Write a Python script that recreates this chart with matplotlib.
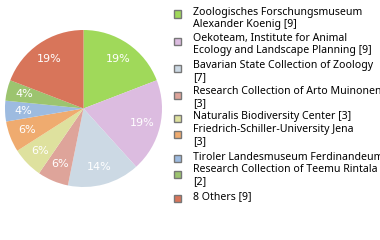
import matplotlib
matplotlib.use("Agg")
import numpy as np
import matplotlib.pyplot as plt
from matplotlib.patches import Rectangle

# data
labels = [
    "Zoologisches Forschungsmuseum\nAlexander Koenig [9]",
    "Oekoteam, Institute for Animal\nEcology and Landscape Planning [9]",
    "Bavarian State Collection of Zoology\n[7]",
    "Research Collection of Arto Muinonen\n[3]",
    "Naturalis Biodiversity Center [3]",
    "Friedrich-Schiller-University Jena\n[3]",
    "Tiroler Landesmuseum Ferdinandeum [2]",
    "Research Collection of Teemu Rintala\n[2]",
    "8 Others [9]",
]
counts = [9, 9, 7, 3, 3, 3, 2, 2, 9]
colors = ["#a0d95a", "#dcbce0", "#ccd9e4", "#dea49a", "#dee19e",
          "#efab6f", "#9dbbe0", "#9cc46f", "#d8755a"]

total = sum(counts)
pct_labels = [f"{int(100 * c / total)}%" for c in counts]

fig = plt.figure(figsize=(3.8, 2.4), dpi=100)
ax = fig.add_axes([5 / 380, 1 - 187 / 240, 157 / 380, 157 / 240])
wedges, _ = ax.pie(counts, colors=colors, startangle=90, counterclock=False,
                   wedgeprops=dict(linewidth=0))
ax.set_xlim(-1, 1)
ax.set_ylim(-1, 1)
ax.set_aspect("equal")

# percentage labels
ang = 90.0
for c, lab in zip(counts, pct_labels):
    span = 360.0 * c / total
    mid = np.deg2rad(ang - span / 2)
    ax.text(0.77 * np.cos(mid), 0.77 * np.sin(mid), lab, color="white",
            ha="center", va="center", fontsize=8, family="DejaVu Sans")
    ang -= span

# legend drawn by hand so the text can run off the right edge
sq_y = [14, 41, 68, 95, 118, 134, 158, 174, 198]
txt_y = [13, 39, 66, 92, 117, 130, 157, 170, 197]
for y_sq, y_t, col, lab in zip(sq_y, txt_y, colors, labels):
    fig.patches.append(Rectangle((174 / 380, 1 - (y_sq + 3.5) / 240), 7 / 380, 7 / 240,
                                 transform=fig.transFigure, facecolor=col,
                                 edgecolor="#777777", linewidth=1))
    fig.text(193 / 380, 1 - (y_t - 6) / 240, lab, ha="left", va="top",
             fontsize=7.6, color="black", linespacing=1.12, family="Noto Sans")

fig.savefig("out.png", dpi=100)
